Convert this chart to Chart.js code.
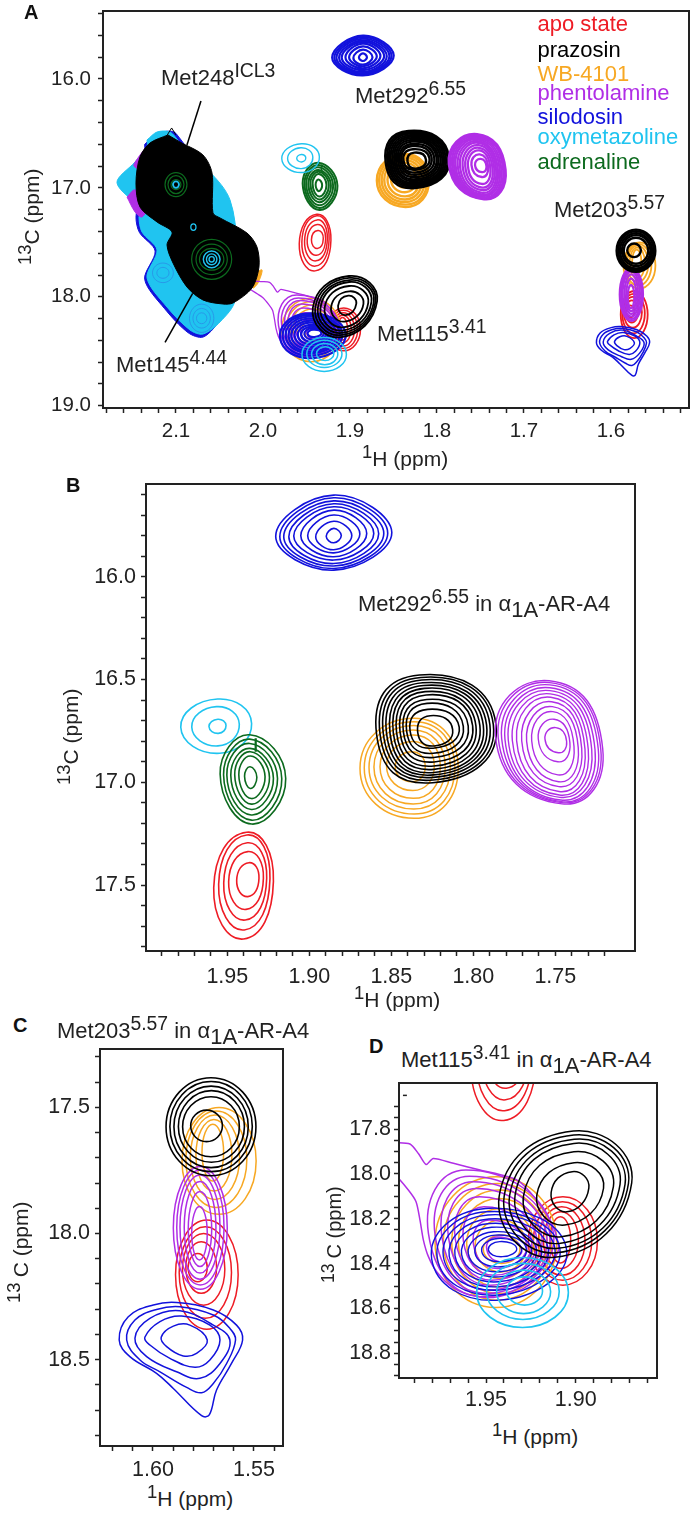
<!DOCTYPE html>
<html lang="en">
<head>
<meta charset="UTF-8">
<title>Methionine 13C-1H spectra of a1A-AR-A4</title>
<script src="https://cdn.jsdelivr.net/npm/chart.js@4/dist/chart.umd.js"></script>
<style>
    body { margin: 0; background: #fff; }
    #page { position: relative; width: 693px; height: 1513px; overflow: hidden; font-family: "Liberation Sans", Arial, sans-serif; }
    canvas { position: absolute; }
    .txt { position: absolute; white-space: nowrap; line-height: 1; color: #222; }
    .txt sup { font-size: .88em; line-height: 0; vertical-align: baseline; position: relative; top: -.42em; }
    .txt sub { font-size: 1em; line-height: 0; vertical-align: baseline; position: relative; top: .26em; }
</style>
</head>
<body>
<div id="page"></div>
<script>
// colours of the ligand states
const red = '#ee1c25', black = '#000000', orange = '#f7a823', purple = '#b02ee6';
const blue = '#1212dc', cyan = '#20c4f0', green = '#0c6a1e', ripple = '#2a8ee6';

// ticks
const aXTicks = [1.52,1.54,1.56,1.58,1.6,1.62,1.64,1.66,1.68,1.7,1.72,1.74,1.76,1.78,1.8,1.82,1.84,1.86,1.88,1.9,1.92,1.94,1.96,1.98,2,2.02,2.04,2.06,2.08,2.1,2.12,2.14,2.16,2.18];
const aXLabels = [1.6,1.7,1.8,1.9,2,2.1];
const aYTicks = [15.4,15.6,15.8,16,16.2,16.4,16.6,16.8,17,17.2,17.4,17.6,17.8,18,18.2,18.4,18.6,18.8,19];
const aYLabels = [16,17,18,19];
const bXTicks = [1.72,1.73,1.74,1.75,1.76,1.77,1.78,1.79,1.8,1.81,1.82,1.83,1.84,1.85,1.86,1.87,1.88,1.89,1.9,1.91,1.92,1.93,1.94,1.95,1.96,1.97,1.98,1.99];
const bXLabels = [1.75,1.8,1.85,1.9,1.95];
const bYTicks = [15.6,15.7,15.8,15.9,16,16.1,16.2,16.3,16.4,16.5,16.6,16.7,16.8,16.9,17,17.1,17.2,17.3,17.4,17.5,17.6,17.7,17.8];
const bYLabels = [16,16.5,17,17.5];
const cXTicks = [1.54,1.55,1.56,1.57,1.58,1.59,1.6,1.61,1.62];
const cXLabels = [1.55,1.6];
const cYTicks = [17.3,17.4,17.5,17.6,17.7,17.8,17.9,18,18.1,18.2,18.3,18.4,18.5,18.6,18.7,18.8];
const cYLabels = [17.5,18,18.5];
const dXTicks = [1.86,1.87,1.88,1.89,1.9,1.91,1.92,1.93,1.94,1.95,1.96,1.97,1.98,1.99];
const dXLabels = [1.9,1.95];
const dYTicks = [17.7,17.75,17.8,17.85,17.9,17.95,18,18.05,18.1,18.15,18.2,18.25,18.3,18.35,18.4,18.45,18.5,18.55,18.6,18.65,18.7,18.75,18.8,18.85,18.9];
const dYLabels = [17.8,18,18.2,18.4,18.6,18.8];

// contour levels, one row per level: ppm from the peak to the left, right, top and bottom edge
// Met292
const centreBlue292 = [1.8851,15.801];
const blue292 = [[.0354,.0354,.198,.167],[.0329,.0329,.185,.159],[.0305,.0305,.17,.147],[.0274,.0274,.156,.135],[.0244,.0244,.141,.118],[.0201,.0201,.125,.102],[.0159,.0159,.101,.083],[.011,.011,.071,.068],[.0046,.0046,.036,.034]];
const centreRed292 = [1.9376,17.475];
const red292 = [[.0207,.0157,.232,.287],[.0177,.0136,.219,.243],[.0146,.0116,.181,.195],[.0116,.0096,.138,.143],[.0067,.0069,.084,.081]];
const centreGreen292 = [1.9357,16.973];
const green292 = [[.0187,.0213,.204,.23],[.0166,.0189,.183,.211],[.0146,.0163,.162,.186],[.0122,.0138,.138,.159],[.0098,.0114,.122,.133],[.0073,.0087,.101,.106],[.0038,.0037,.049,.057]];
const greenSpur292 = [[1.9327,16.786],[1.9327,16.851]];
const centreCyan292 = [1.9557,16.726];
const cyan292 = [[.0227,.0205,.131,.133],[.016,.013,.094,.097],[.0055,.0049,.033,.036]];
const centreBlack292 = [1.8234,16.749];
const black292 = [[.0356,.0372,.271,.253],[.0335,.0356,.259,.24],[.0315,.0335,.247,.227],[.0295,.0315,.233,.215],[.0274,.0295,.22,.203],[.0254,.0274,.206,.188],[.0234,.025,.19,.172],[.0213,.023,.174,.152],[.0193,.0203,.152,.13],[.0173,.0173,.133,.11],[.0152,.0148,.104,.085],[.0105,.0108,.073,.074]];
const centreOrange292 = [1.8366,16.932];
const orange292 = [[.0325,.0274,.243,.243],[.0299,.0254,.227,.222],[.027,.0226,.208,.198],[.024,.0195,.186,.174],[.0203,.0165,.162,.146],[.0163,.0128,.13,.108],[.011,.0073,.081,.065]];
const centrePurple292 = [1.7502,16.794];
const purple292 = [[.0362,.0291,.288,.311],[.0346,.0279,.279,.305],[.0325,.0264,.268,.3],[.0305,.0244,.254,.292],[.0285,.0224,.24,.279],[.026,.0203,.224,.268],[.0234,.0183,.208,.251],[.0203,.0163,.186,.227],[.0173,.0142,.162,.203],[.0142,.0116,.138,.17],[.0102,.0091,.101,.106],[.0061,.0071,.06,.062]];
// Met203
const centreBlack203 = [1.5734,17.574];
const black203 = [[.0201,.0244,.191,.197],[.0182,.0226,.176,.181],[.0162,.0206,.158,.165],[.014,.0187,.14,.144],[.0119,.0162,.116,.122],[.0079,.0078,.063,.062]];
const centreOrange203 = [1.5703,17.607];
const orange203 = [[.0153,.0214,.106,.317],[.0134,.0168,.092,.29],[.0112,.0132,.076,.258],[.0084,.0094,.059,.225],[.0054,.0053,.04,.185]];
const centrePurple203 = [1.5767,17.999];
const purple203 = [[.0132,.0135,.264,.222],[.0115,.0119,.251,.205],[.0099,.0099,.231,.182],[.0078,.0079,.205,.158],[.0058,.0058,.165,.132],[.0041,.0036,.106,.106]];
const centreRed203 = [1.5781,18.145];
const red203 = [[.0107,.0203,.198,.234],[.0089,.017,.172,.191],[.0073,.0137,.145,.139],[.0056,.0096,.112,.092],[.0045,.005,.066,.046]];
const blue203Rings = [
    [[1.6167,18.422],[1.6122,18.33],[1.5998,18.283],[1.5883,18.273],[1.5701,18.303],[1.5586,18.363],[1.5556,18.422],[1.5611,18.515],[1.5685,18.62],[1.5721,18.719],[1.5759,18.722],[1.5899,18.614],[1.5982,18.554],[1.6114,18.488]],
    [[1.613,18.422],[1.6089,18.343],[1.5982,18.301],[1.5866,18.29],[1.5701,18.323],[1.5619,18.376],[1.5591,18.422],[1.5635,18.515],[1.5701,18.594],[1.5759,18.631],[1.5833,18.61],[1.5965,18.548],[1.6064,18.501]],
    [[1.6089,18.415],[1.6015,18.336],[1.5866,18.306],[1.5701,18.363],[1.5619,18.422],[1.5668,18.515],[1.5767,18.574],[1.5883,18.548],[1.6031,18.488]],
    [[1.604,18.411],[1.5965,18.349],[1.5858,18.327],[1.5718,18.363],[1.5668,18.422],[1.5718,18.501],[1.5792,18.53],[1.5916,18.495],[1.6015,18.442]],
    [[1.5959,18.411],[1.5899,18.367],[1.5817,18.363],[1.5731,18.422],[1.5784,18.475],[1.585,18.485],[1.5932,18.448]]
];
// Met115
const centreBlack115 = [1.9035,18.072];
const black115 = [[.0392,.0347,.263,.3],[.0364,.0329,.245,.28],[.0334,.031,.226,.26],[.0303,.0282,.208,.238],[.0256,.0245,.171,.208],[.0182,.019,.122,.156],[.0102,.0108,.082,.097]];
const centreRed115 = [1.9069,18.288];
const red115 = [[.0195,.019,.186,.208],[.0167,.0158,.164,.186],[.0139,.0121,.141,.164],[.0111,.0084,.119,.134],[.0074,.0041,.097,.109]];
const purpleRidge115 = [[2.02,17.9],[2.0007,18.005],[1.9933,18.072],[1.989,18.124],[1.9868,18.206],[1.9849,18.295],[1.9821,18.369],[1.9775,18.436],[1.9691,18.503],[1.9589,18.54],[1.9459,18.551],[1.931,18.518],[1.918,18.444],[1.9097,18.34],[1.9125,18.236],[1.9218,18.117],[1.9329,18.027],[1.9533,17.983],[1.9682,17.953],[1.9794,17.931],[1.9834,17.958],[1.9877,17.909],[1.9924,17.867],[2.0007,17.861],[2.02,17.855]];
const centrePurple115 = [1.9403,18.34];
const purple115 = [[.0418,.0279,.357,.208],[.0381,.026,.33,.193],[.0344,.0242,.305,.178],[.0307,.0214,.275,.156],[.0269,.0186,.238,.134],[.0223,.0158,.193,.112],[.0167,.013,.134,.082],[.0093,.0102,.059,.052]];
const centreOrange115 = [1.9422,18.34];
const orange115 = [[.0362,.0316,.327,.256],[.0316,.0288,.297,.223],[.0269,.026,.268,.193],[.0232,.0223,.23,.164],[.0186,.0186,.186,.126],[.0139,.0149,.134,.097],[.0093,.0111,.067,.059]];
const centreBlue115 = [1.9413,18.347];
const blue115 = [[.039,.0362,.193,.216],[.0359,.0325,.178,.193],[.0325,.0297,.164,.171],[.0292,.026,.146,.156],[.026,.0223,.126,.134],[.0223,.0195,.109,.112],[.0186,.0167,.089,.089],[.0149,.0139,.074,.067],[.0111,.0111,.059,.045],[.0074,.0084,.045,.022]];
const centreCyan115 = [1.9283,18.511];
const cyan115 = [[.0269,.0242,.138,.174],[.0214,.0191,.112,.138],[.0158,.0143,.082,.112],[.0102,.0098,.052,.074]];
const strayTick = [[1.9963,17.65],[1.9941,17.65]];
// overlapped Met248 and Met145 mass in panel A, outlines in ppm
const blobBlack = [[2.1092,16.514],[2.0954,16.579],[2.069,16.698],[2.0586,16.863],[2.0575,17.23],[2.0494,17.276],[2.0184,17.414],[2.0069,17.543],[2.0046,17.726],[2.0126,17.919],[2.0345,18.057],[2.046,18.066],[2.069,18.029],[2.0874,17.91],[2.1034,17.69],[2.1103,17.524],[2.1046,17.405],[2.1218,17.313],[2.1414,17.175],[2.146,16.955],[2.1414,16.716],[2.1299,16.588]];
const blobCyan = [[2.1333,16.56],[2.1218,16.487],[2.1069,16.487],[2.0954,16.588],[2.0379,17.111],[2.0322,18.029],[2.0494,18.231],[2.069,18.342],[2.0839,18.305],[2.1103,18.094],[2.1333,17.827],[2.1218,17.57],[2.1391,17.405],[2.1425,17.267],[2.1391,17.203],[2.1678,16.955],[2.1471,16.762],[2.1333,16.624]];
const blobBlue = [[2.136,16.6],[2.122,16.5],[2.1,16.5],[2.05,17.2],[2.04,18.03],[2.052,18.24],[2.069,18.37],[2.086,18.33],[2.113,18.11],[2.136,17.84],[2.124,17.58],[2.142,17.41],[2.146,17.27],[2.142,17.1],[2.135,16.85]];
const blobPurpleUpper = [[2.1333,16.615],[2.1437,16.725],[2.1483,16.799],[2.1356,16.836]];
const blobPurpleLower = [[2.1563,17.084],[2.1471,17.221],[2.1391,17.267],[2.1322,17.157],[2.1471,17.019]];
const blobOrange = [[2.0092,17.781],[2.0011,17.754],[2.0057,17.873],[2.0115,17.919]];
const blobTip = [[2.11,16.514],[2.105,16.45],[2.1,16.514]];
const centre248 = [2.1,16.97];
const green248 = [[.0126,.0126,.11,.11],[.0092,.0092,.083,.083],[.0057,.0057,.046,.046]];
const cyan248 = [[.0034,.0034,.03,.03]];
const centre145 = [2.059,17.656];
const green145 = [[.023,.023,.184,.184],[.018,.018,.14,.14],[.014,.014,.1,.1]];
const cyan145 = [[.0096,.0096,.077,.077],[.006,.006,.05,.05],[.003,.003,.025,.025]];
const centreRippleLow = [2.0705,18.197];
const rippleLow = [[.014,.014,.13,.13],[.01,.01,.09,.09],[.006,.006,.05,.05]];
const centreRippleLeft = [2.115,17.78];
const rippleLeft = [[.012,.012,.09,.09],[.007,.007,.05,.05]];
const centreSpeck = [2.08,17.36];
const speck = [[.003,.003,.03,.03]];
const callout248 = [[2.0713,16.202],[2.0874,16.606]];
const callout145 = [[2.0808,17.968],[2.1126,18.418]];

// where the extreme points sit on each contour: top x, right y, bottom x, left y, then curve tension
const shapeEven = [.5,.5,.5,.5,.55];
const shapeBlue292 = [.5,.5,.5,.55,.45];
const shapeRed292 = [.55,.46,.5,.52,.58];
const shapeGreen292 = [.45,.49,.48,.44,.5];
const shapeCyan292 = [.52,.45,.55,.52,.55];
const shapeBlack292 = [.36,.46,.47,.55,.64];
const shapeOrange292 = [.55,.5,.55,.5,.58];
const shapePurple292 = [.5,.55,.62,.46,.6];
const shapeBlack115 = [.56,.41,.42,.52,.55];
const shapePurple115 = [.3,.5,.45,.5,.55];
const shapeBlue115 = [.4,.45,.5,.55,.55];

const page = document.getElementById('page');

function toPoints(pairs) {
    return pairs.map(function (p) { return { x: p[0], y: p[1] }; });
}

// four extreme points of one contour level
function levelPoints(centre, row, shape) {
    const xL = centre[0] + row[0], xR = centre[0] - row[1];
    const yT = centre[1] - row[2], yB = centre[1] + row[3];
    return [
        { x: xL, y: yT + (yB - yT) * shape[3] },
        { x: xL + (xR - xL) * shape[0], y: yT },
        { x: xR, y: yT + (yB - yT) * shape[1] },
        { x: xL + (xR - xL) * shape[2], y: yB }
    ];
}

// closed curve: the extra points at both ends only give the spline its tangents and stay hidden
function ringSet(points, color, width, tension) {
    const data = [points[points.length - 1]].concat(points, [points[0], points[1]]);
    const last = data.length - 1;
    return {
        data: data, showLine: true, borderColor: color, borderWidth: width, pointRadius: 0, tension: tension,
        segment: { borderColor: function (ctx) { return ctx.p0DataIndex === 0 || ctx.p1DataIndex === last ? 'transparent' : undefined; } }
    };
}

function openSet(pairs, color, width) {
    return { data: toPoints(pairs), showLine: true, borderColor: color, borderWidth: width, pointRadius: 0, tension: 0 };
}

function blobSet(pairs, color) {
    const pts = toPoints(pairs);
    return { data: pts.concat([pts[0]]), showLine: true, fill: 'shape', backgroundColor: color, borderColor: color, borderWidth: 1, pointRadius: 0, tension: .3 };
}

function addPeak(sets, rows, centre, color, shape, width) {
    rows.forEach(function (row) {
        sets.push(ringSet(levelPoints(centre, row, shape), color, width, shape[4]));
    });
}

function addRings(sets, rings, color, width) {
    rings.forEach(function (r) { sets.push(ringSet(toPoints(r), color, width, .4)); });
}

function addRidge(sets, width) {
    const pts = toPoints(purpleRidge115);
    sets.push(ringSet(pts, purple, width, .25));
}

// paint the frame on top of the marks
const framePlugin = {
    id: 'frame',
    afterDraw: function (chart) {
        const a = chart.chartArea, c = chart.ctx;
        c.save();
        c.strokeStyle = '#222';
        c.lineWidth = 2;
        c.strokeRect(a.left, a.top, a.right - a.left, a.bottom - a.top);
        c.restore();
    }
};

function makeChart(box, xRange, yRange, xTicks, xLabels, yTicks, yLabels, decimals, font, padY, sets) {
    const canvas = document.createElement('canvas');
    canvas.width = box.width;
    canvas.height = box.height;
    canvas.style.left = box.left + 'px';
    canvas.style.top = box.top + 'px';
    page.appendChild(canvas);
    // the library paints the first dataset last, so turn the painting order round
    sets.reverse();
    const tickFont = { family: 'Liberation Sans', size: font };
    return new Chart(canvas.getContext('2d'), {
        type: 'scatter',
        data: { datasets: sets },
        plugins: [framePlugin],
        options: {
            responsive: false,
            animation: false,
            events: [],
            layout: { padding: { left: 0, top: box.padTop, right: box.padRight, bottom: 0 } },
            elements: { line: { capBezierPoints: false } },
            plugins: { legend: { display: false }, tooltip: { enabled: false } },
            scales: {
                x: {
                    type: 'linear', reverse: true, min: xRange[0], max: xRange[1],
                    grid: { drawOnChartArea: false, tickLength: 5, tickColor: '#222', tickWidth: 1.5 },
                    border: { display: false },
                    afterBuildTicks: function (s) { s.ticks = xTicks.map(function (v) { return { value: v }; }); },
                    afterFit: function (s) { s.height = box.axisHeight; s.paddingLeft = 0; s.paddingRight = 0; },
                    ticks: {
                        autoSkip: false, maxRotation: 0, minRotation: 0, padding: box.padX, color: '#222', font: tickFont,
                        callback: function (v) { return xLabels.includes(v) ? v.toFixed(decimals[0]) : ''; }
                    }
                },
                y: {
                    type: 'linear', reverse: true, min: yRange[0], max: yRange[1],
                    grid: { drawOnChartArea: false, tickLength: 5, tickColor: '#222', tickWidth: 1.5 },
                    border: { display: false },
                    afterBuildTicks: function (s) { s.ticks = yTicks.map(function (v) { return { value: v }; }); },
                    afterFit: function (s) { s.width = box.axisWidth; s.paddingTop = 0; s.paddingBottom = 0; },
                    ticks: {
                        autoSkip: false, padding: padY, color: '#222', font: tickFont,
                        callback: function (v) { return yLabels.includes(v) ? v.toFixed(decimals[1]) : ''; }
                    }
                }
            }
        }
    });
}

// labels are page text so they can carry real super and subscripts
function addText(html, x, baseline, size, color, weight) {
    const d = document.createElement('div');
    d.className = 'txt';
    d.innerHTML = html;
    d.style.left = x + 'px';
    d.style.top = (baseline - .8465 * size) + 'px';
    d.style.fontSize = size + 'px';
    if (color) d.style.color = color;
    if (weight) d.style.fontWeight = weight;
    page.appendChild(d);
}

function addUpText(html, baselineX, bottom, size) {
    const d = document.createElement('div');
    d.className = 'txt';
    d.innerHTML = html;
    d.style.left = (baselineX - .8465 * size) + 'px';
    d.style.top = bottom + 'px';
    d.style.fontSize = size + 'px';
    d.style.transformOrigin = '0 0';
    d.style.transform = 'rotate(-90deg)';
    page.appendChild(d);
}

// panel A, same contours as the close-ups but packed tighter, so heavier lines
const aSets = [];
aSets.push(blobSet(blobBlue, blue));
aSets.push(blobSet(blobCyan, cyan));
aSets.push(blobSet(blobPurpleUpper, purple));
aSets.push(blobSet(blobPurpleLower, purple));
aSets.push(blobSet(blobOrange, orange));
addPeak(aSets, rippleLow, centreRippleLow, ripple, shapeEven, .8);
addPeak(aSets, rippleLeft, centreRippleLeft, ripple, shapeEven, .8);
addPeak(aSets, blue292, centreBlue292, blue, shapeBlue292, 2.2);
addPeak(aSets, red292, centreRed292, red, shapeRed292, 1.5);
addPeak(aSets, green292, centreGreen292, green, shapeGreen292, 2);
aSets.push(openSet(greenSpur292, green, 1.5));
addPeak(aSets, cyan292, centreCyan292, cyan, shapeCyan292, 1.4);
addPeak(aSets, orange292, centreOrange292, orange, shapeOrange292, 2.4);
addPeak(aSets, black292, centreBlack292, black, shapeBlack292, 2.4);
addPeak(aSets, purple292, centrePurple292, purple, shapePurple292, 2.3);
addPeak(aSets, orange203, centreOrange203, orange, shapeEven, 1.8);
addPeak(aSets, red203, centreRed203, red, shapeEven, 1.8);
addPeak(aSets, purple203, centrePurple203, purple, shapeEven, 2.2);
addRings(aSets, blue203Rings, blue, 1.5);
addPeak(aSets, black203, centreBlack203, black, shapeEven, 2.4);
addPeak(aSets, red115, centreRed115, red, shapeEven, 1.5);
addPeak(aSets, orange115, centreOrange115, orange, shapeEven, 1.5);
addRidge(aSets, 1.3);
addPeak(aSets, purple115, centrePurple115, purple, shapePurple115, 1.5);
addPeak(aSets, blue115, centreBlue115, blue, shapeBlue115, 2.2);
addPeak(aSets, black115, centreBlack115, black, shapeBlack115, 1.8);
addPeak(aSets, cyan115, centreCyan115, cyan, shapeEven, 1.5);
aSets.push(blobSet(blobBlack, black));
aSets.push(openSet(blobTip, black, 1));
addPeak(aSets, green248, centre248, green, shapeEven, 1.2);
addPeak(aSets, cyan248, centre248, cyan, shapeEven, 1.8);
addPeak(aSets, green145, centre145, green, shapeEven, 1.2);
addPeak(aSets, cyan145, centre145, cyan, shapeEven, 1.4);
addPeak(aSets, speck, centreSpeck, cyan, shapeEven, 1.2);
aSets.push(openSet(callout248, black, 1.5));
aSets.push(openSet(callout145, black, 1.5));
makeChart({ left: 0, top: 0, width: 693, height: 448, padTop: 11, padRight: 4, axisWidth: 103, axisHeight: 40, padX: 6 },
    [1.5103, 2.1839], [15.376, 19.021], aXTicks, aXLabels, aYTicks, aYLabels, [1, 1], 20.5, 7, aSets);

// panel B
const bSets = [];
addPeak(bSets, blue292, centreBlue292, blue, shapeBlue292, 1.6);
addPeak(bSets, red292, centreRed292, red, shapeRed292, 1.6);
addPeak(bSets, cyan292, centreCyan292, cyan, shapeCyan292, 1.6);
addPeak(bSets, green292, centreGreen292, green, shapeGreen292, 1.6);
bSets.push(openSet(greenSpur292, green, 2.2));
addPeak(bSets, orange292, centreOrange292, orange, shapeOrange292, 1.5);
addPeak(bSets, black292, centreBlack292, black, shapeBlack292, 1.6);
addPeak(bSets, purple292, centrePurple292, purple, shapePurple292, 1.4);
makeChart({ left: 0, top: 474, width: 693, height: 517, padTop: 10, padRight: 58, axisWidth: 146, axisHeight: 40, padX: 8 },
    [1.7014, 1.9996], [15.549, 17.8205], bXTicks, bXLabels, bYTicks, bYLabels, [2, 1], 21.5, 5, bSets);

// panel C
const cSets = [];
addPeak(cSets, orange203, centreOrange203, orange, shapeEven, 1.5);
addPeak(cSets, red203, centreRed203, red, shapeEven, 1.5);
addPeak(cSets, purple203, centrePurple203, purple, shapeEven, 1.5);
addRings(cSets, blue203Rings, blue, 1.5);
addPeak(cSets, black203, centreBlack203, black, shapeEven, 1.6);
makeChart({ left: 0, top: 1040, width: 300, height: 446, padTop: 9, padRight: 17, axisWidth: 100, axisHeight: 40, padX: 6 },
    [1.5356, 1.6262], [17.269, 18.842], cXTicks, cXLabels, cYTicks, cYLabels, [2, 1], 21.5, 5, cSets);

// panel D
const dSets = [];
addPeak(dSets, red292, centreRed292, red, shapeRed292, 1.5);
addPeak(dSets, red115, centreRed115, red, shapeEven, 1.5);
addPeak(dSets, orange115, centreOrange115, orange, shapeEven, 1.5);
addRidge(dSets, 1.5);
addPeak(dSets, purple115, centrePurple115, purple, shapePurple115, 1.5);
addPeak(dSets, blue115, centreBlue115, blue, shapeBlue115, 1.4);
addPeak(dSets, black115, centreBlack115, black, shapeBlack115, 1.5);
addPeak(dSets, cyan115, centreCyan115, cyan, shapeEven, 1.6);
dSets.push(openSet(strayTick, '#222', 1.5));
makeChart({ left: 340, top: 1075, width: 353, height: 343, padTop: 8, padRight: 36, axisWidth: 59, axisHeight: 40, padX: 4 },
    [1.8547, 1.9985], [17.5948, 18.91], dXTicks, dXLabels, dYTicks, dYLabels, [2, 1], 21.5, 3, dSets);

// panel letters
addText('A', 24, 19, 20, '#111', 'bold');
addText('B', 66, 492, 20, '#111', 'bold');
addText('C', 13, 1032, 20, '#111', 'bold');
addText('D', 369, 1053, 20, '#111', 'bold');

// peak labels
addText('Met248<sup>ICL3</sup>', 161, 86, 22);
addText('Met292<sup>6.55</sup>', 355, 104, 22);
addText('Met203<sup>5.57</sup>', 554, 218, 22);
addText('Met115<sup>3.41</sup>', 377, 342, 22);
addText('Met145<sup>4.44</sup>', 116, 373, 22);

// colour key
addText('apo state', 537.5, 32, 22, red);
addText('prazosin', 537.5, 57.3, 22, black);
addText('WB-4101', 537.5, 81.7, 22, orange);
addText('phentolamine', 537.5, 101, 22, purple);
addText('silodosin', 537.5, 125, 22, blue);
addText('oxymetazoline', 537.5, 145, 22, cyan);
addText('adrenaline', 537.5, 169.3, 22, green);

// panel titles
addText('Met292<sup>6.55</sup> in α<sub>1A</sub>-AR-A4', 358, 611.7, 22);
addText('Met203<sup>5.57</sup> in α<sub>1A</sub>-AR-A4', 57, 1039, 22);
addText('Met115<sup>3.41</sup> in α<sub>1A</sub>-AR-A4', 401, 1067.7, 22);

// axis titles
addText('<sup>1</sup>H (ppm)', 362, 466, 21);
addText('<sup>1</sup>H (ppm)', 354, 1007, 21);
addText('<sup>1</sup>H (ppm)', 147, 1506, 21);
addText('<sup>1</sup>H (ppm)', 492, 1444, 21);
addUpText('<sup>13</sup>C (ppm)', 39, 265, 21);
addUpText('<sup>13</sup>C (ppm)', 78, 785, 21);
addUpText('<sup>13 </sup>C (ppm)', 28, 1303, 21);
addUpText('<sup>13 </sup>C (ppm)', 341, 1283, 20);
</script>
</body>
</html>
